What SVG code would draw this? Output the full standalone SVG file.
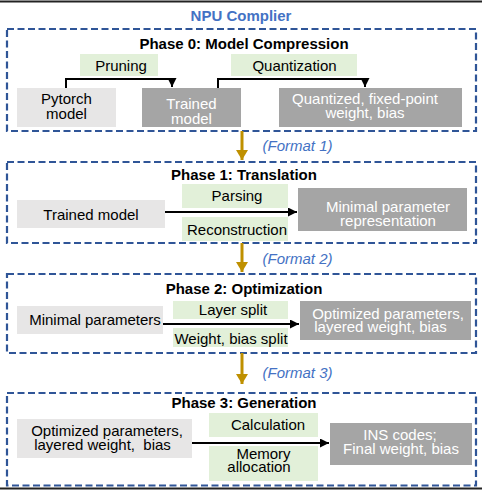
<svg xmlns="http://www.w3.org/2000/svg" width="482" height="490" viewBox="0 0 482 490">
<style>
text{font-family:"Liberation Sans",Arial,sans-serif;font-size:15px;text-anchor:middle}
.title{font-weight:bold;fill:#000}
.blue{fill:#4472c4}
.fmt{fill:#4472c4;font-style:italic}
.phase{fill:none;stroke:#2f5597;stroke-width:2.2;stroke-dasharray:7 3.5}
.lt{fill:#e7e6e6}
.dk{fill:#a5a5a5}
.gr{fill:#e2f0d9}
.wt{fill:#fff}
.bk{fill:#000}
.conn{fill:none;stroke:#000;stroke-width:2}
.gold{fill:none;stroke:#bf9000;stroke-width:3}
</style>
<defs>
<marker id="ah" markerUnits="userSpaceOnUse" markerWidth="10" markerHeight="10" refX="9" refY="4.5" orient="auto">
<path d="M0,0 L9,4.5 L0,9 Z" fill="#000"/>
</marker>
<marker id="gh" markerUnits="userSpaceOnUse" markerWidth="12" markerHeight="12" refX="10" refY="6" orient="auto">
<path d="M0,0 L10,6 L0,12 Z" fill="#bf9000"/>
</marker>
</defs>
<rect width="482" height="490" fill="#fff"/>
<line x1="0" y1="1.5" x2="482" y2="1.5" stroke="#222" stroke-width="2"/>
<line x1="0" y1="488.5" x2="482" y2="488.5" stroke="#222" stroke-width="2"/>
<text x="241" y="21" class="title blue" style="fill:#4472c4">NPU Complier</text>

<g id="phase0">
<rect class="phase" x="7" y="29" width="469" height="102"/>
<text x="244" y="49" class="title">Phase 0: Model Compression</text>
</g>
<g id="pruning"><rect class="gr" x="80" y="54" width="78" height="22"/><text x="121" y="71">Pruning</text></g>
<g id="quantization"><rect class="gr" x="231" y="54" width="126" height="22"/><text x="294.5" y="71">Quantization</text></g>
<g id="pytorch"><rect class="lt" x="17" y="88" width="99" height="39"/><text x="66.5" y="104">Pytorch</text><text x="66.5" y="119">model</text></g>
<g id="trained0"><rect class="dk" x="142" y="88" width="99" height="39"/><text class="wt" x="191.5" y="109">Trained</text><text class="wt" x="191.5" y="123.5">model</text></g>
<g id="quantized"><rect class="dk" x="279" y="88" width="183" height="39"/><text class="wt" x="365" y="104">Quantized, fixed-point</text><text class="wt" x="365" y="118">weight, bias</text></g>

<text x="297.5" y="151" class="fmt">(Format 1)</text>

<g id="phase1">
<rect class="phase" x="7" y="162" width="469" height="81"/>
<text x="244" y="179.5" class="title">Phase 1: Translation</text>
</g>
<g id="parsing"><rect class="gr" x="182" y="184" width="106" height="24"/><text x="237" y="201">Parsing</text></g>
<g id="reconstruction"><rect class="gr" x="182" y="217" width="106" height="24"/><text x="237" y="234.5">Reconstruction</text></g>
<g id="trained1"><rect class="lt" x="17" y="200" width="148" height="28"/><text x="91" y="219.5">Trained model</text></g>
<g id="minimalrep"><rect class="dk" x="298" y="188" width="169" height="43"/><text class="wt" x="388" y="211.5">Minimal parameter</text><text class="wt" x="388" y="226">representation</text></g>

<text x="297.5" y="263.5" class="fmt">(Format 2)</text>

<g id="phase2">
<rect class="phase" x="7" y="274" width="469" height="79"/>
<text x="244" y="294" class="title">Phase 2: Optimization</text>
</g>
<g id="layersplit"><rect class="gr" x="173" y="301" width="115" height="18"/><text x="233" y="315">Layer split</text></g>
<g id="wbsplit"><rect class="gr" x="173" y="328" width="115" height="19"/><text x="231" y="343.5">Weight, bias split</text></g>
<g id="minimal"><rect class="lt" x="17" y="306" width="146" height="28"/><text x="95" y="325">Minimal parameters</text></g>
<g id="optimized2"><rect class="dk" x="300" y="301" width="171" height="39"/><text class="wt" x="388" y="318.5">Optimized parameters,</text><text class="wt" x="380.5" y="332">layered weight, bias</text></g>

<text x="297.5" y="378" class="fmt">(Format 3)</text>

<g id="phase3">
<rect class="phase" x="7" y="393" width="469" height="92.5"/>
<text x="244" y="407.5" class="title">Phase 3: Generation</text>
</g>
<g id="calculation"><rect class="gr" x="209" y="413" width="109" height="24"/><text x="268" y="429.5">Calculation</text></g>
<g id="memory"><rect class="gr" x="209" y="446" width="109" height="35"/><text x="263.5" y="458.5">Memory</text><text x="259" y="472">allocation</text></g>
<g id="optimized3"><rect class="lt" x="17" y="419" width="175" height="39"/><text x="107" y="436">Optimized parameters,</text><text x="102.5" y="450" xml:space="preserve">layered weight,  bias</text></g>
<g id="ins"><rect class="dk" x="330" y="423" width="142" height="42"/><text class="wt" x="400" y="440">INS codes;</text><text class="wt" x="401" y="453.5">Final weight, bias</text></g>

<g id="connectors">
<polyline class="conn" points="66,88 66,79 172,79 172,87" marker-end="url(#ah)"/>
<polyline class="conn" points="218,88 218,79 365,79 365,87" marker-end="url(#ah)"/>
<line class="conn" x1="165" y1="212" x2="297" y2="212" marker-end="url(#ah)"/>
<line class="conn" x1="163" y1="324" x2="299" y2="324" marker-end="url(#ah)"/>
<line class="conn" x1="192" y1="443" x2="329" y2="443" marker-end="url(#ah)"/>
<line class="gold" x1="242" y1="131" x2="242" y2="160" marker-end="url(#gh)"/>
<line class="gold" x1="242" y1="243" x2="242" y2="272" marker-end="url(#gh)"/>
<line class="gold" x1="242" y1="353" x2="242" y2="384" marker-end="url(#gh)"/>
</g>
</svg>
